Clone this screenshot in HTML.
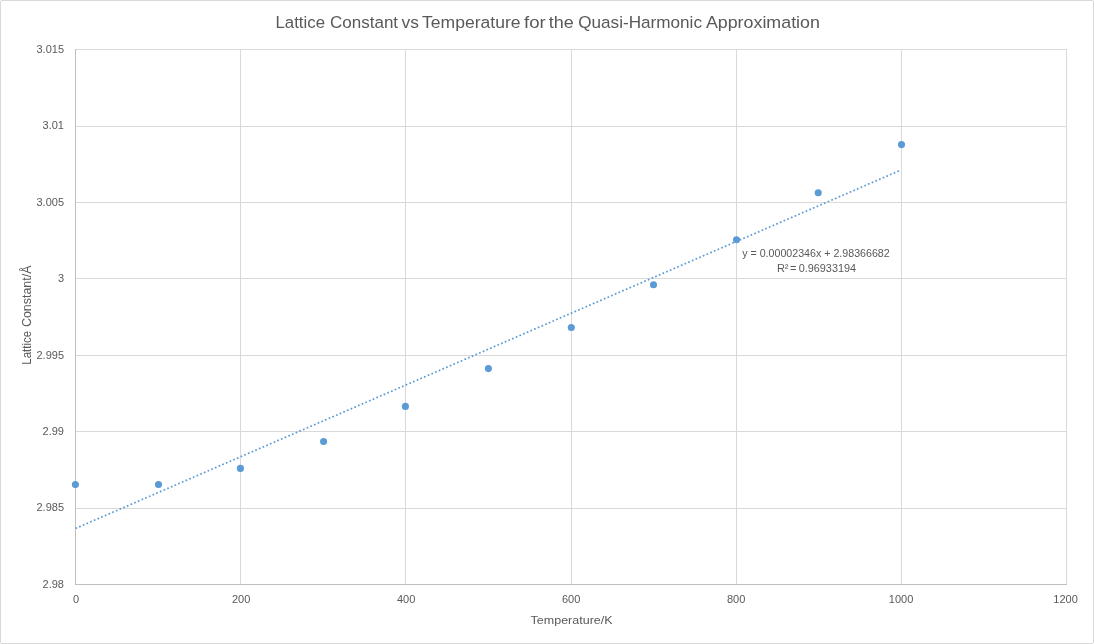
<!DOCTYPE html>
<html lang="en"><head><meta charset="utf-8"><title>Lattice Constant vs Temperature</title>
<style>html,body{margin:0;padding:0;background:#fff;overflow:hidden}svg{display:block}text{font-family:"Liberation Sans",sans-serif;fill:#595959}</style></head><body>
<svg width="1094" height="644" viewBox="0 0 1094 644">
<rect x="0" y="0" width="1094" height="644" fill="#fff"/>
<g shape-rendering="crispEdges" fill="#d9d9d9">
<rect x="1" y="0" width="1092" height="1"/><rect x="1" y="643" width="1092" height="1"/><rect x="0" y="1" width="1" height="642"/><rect x="1093" y="1" width="1" height="642"/>
<rect x="75" y="49" width="992" height="1"/>
<rect x="75" y="126" width="992" height="1"/>
<rect x="75" y="202" width="992" height="1"/>
<rect x="75" y="278" width="992" height="1"/>
<rect x="75" y="355" width="992" height="1"/>
<rect x="75" y="431" width="992" height="1"/>
<rect x="75" y="508" width="992" height="1"/>
<rect x="240" y="49" width="1" height="536"/>
<rect x="405" y="49" width="1" height="536"/>
<rect x="571" y="49" width="1" height="536"/>
<rect x="736" y="49" width="1" height="536"/>
<rect x="901" y="49" width="1" height="536"/>
<rect x="1066" y="49" width="1" height="536"/>
</g>
<g shape-rendering="crispEdges" fill="#bfbfbf">
<rect x="75" y="49" width="1" height="536"/><rect x="75" y="584" width="992" height="1"/>
</g>
<line x1="75.5" y1="528.45" x2="899.6" y2="170.6" stroke="#5b9bd5" stroke-width="1.7" stroke-dasharray="1.7 2.3" fill="none"/>
<g fill="#5b9bd5">
<circle cx="75.4" cy="484.6" r="3.55"/>
<circle cx="158.5" cy="484.5" r="3.55"/>
<circle cx="240.4" cy="468.4" r="3.55"/>
<circle cx="323.6" cy="441.5" r="3.55"/>
<circle cx="405.4" cy="406.4" r="3.55"/>
<circle cx="488.4" cy="368.6" r="3.55"/>
<circle cx="571.3" cy="327.5" r="3.55"/>
<circle cx="653.5" cy="284.7" r="3.55"/>
<circle cx="736.5" cy="239.7" r="3.55"/>
<circle cx="818.2" cy="192.7" r="3.55"/>
<circle cx="901.5" cy="144.6" r="3.55"/>
</g>
<text y="28.2" font-size="17.2" fill="#4d4d4d"><tspan x="275.5" textLength="49.5" lengthAdjust="spacingAndGlyphs">Lattice</tspan> <tspan x="330.0" textLength="68.1" lengthAdjust="spacingAndGlyphs">Constant</tspan> <tspan x="401.5" textLength="17.4" lengthAdjust="spacingAndGlyphs">vs</tspan> <tspan x="422.0" textLength="98.5" lengthAdjust="spacingAndGlyphs">Temperature</tspan> <tspan x="524.0" textLength="21.7" lengthAdjust="spacingAndGlyphs">for</tspan> <tspan x="548.8" textLength="25.0" lengthAdjust="spacingAndGlyphs">the</tspan> <tspan x="578.2" textLength="123.8" lengthAdjust="spacingAndGlyphs">Quasi-Harmonic</tspan> <tspan x="705.9" textLength="114.0" lengthAdjust="spacingAndGlyphs">Approximation</tspan></text>
<text x="64" y="53.0" font-size="11" text-anchor="end" fill="#454545">3.015</text>
<text x="64" y="129.1" font-size="11" text-anchor="end" fill="#454545">3.01</text>
<text x="64" y="206.1" font-size="11" text-anchor="end" fill="#454545">3.005</text>
<text x="64" y="282.1" font-size="11" text-anchor="end" fill="#454545">3</text>
<text x="64" y="359.1" font-size="11" text-anchor="end" fill="#454545">2.995</text>
<text x="64" y="435.1" font-size="11" text-anchor="end" fill="#454545">2.99</text>
<text x="64" y="511.1" font-size="11" text-anchor="end" fill="#454545">2.985</text>
<text x="64" y="588.0" font-size="11" text-anchor="end" fill="#454545">2.98</text>
<text x="76.0" y="603.2" font-size="11" text-anchor="middle" fill="#454545">0</text>
<text x="241.1" y="603.2" font-size="11" text-anchor="middle" fill="#454545">200</text>
<text x="406.1" y="603.2" font-size="11" text-anchor="middle" fill="#454545">400</text>
<text x="571.1" y="603.2" font-size="11" text-anchor="middle" fill="#454545">600</text>
<text x="736.1" y="603.2" font-size="11" text-anchor="middle" fill="#454545">800</text>
<text x="901.1" y="603.2" font-size="11" text-anchor="middle" fill="#454545">1000</text>
<text x="1065.6" y="603.2" font-size="11" text-anchor="middle" fill="#454545">1200</text>
<text x="530.6" y="623.9" font-size="11.4" textLength="82" lengthAdjust="spacingAndGlyphs" fill="#454545">Temperature/K</text>
<text transform="translate(30.9 364.7) rotate(-90)" font-size="12.1" fill="#454545"><tspan x="0" textLength="33.8" lengthAdjust="spacingAndGlyphs">Lattice</tspan> <tspan x="37.6" textLength="61.6" lengthAdjust="spacingAndGlyphs">Constant/Å</tspan></text>
<text x="742.2" y="256.8" font-size="11" textLength="147.5" lengthAdjust="spacingAndGlyphs" fill="#454545">y = 0.00002346x + 2.98366682</text>
<text y="272" font-size="11" fill="#454545"><tspan x="776.9">R²</tspan> <tspan x="790.1">=</tspan> <tspan x="798.7" textLength="57.4" lengthAdjust="spacingAndGlyphs">0.96933194</tspan></text>
</svg></body></html>
